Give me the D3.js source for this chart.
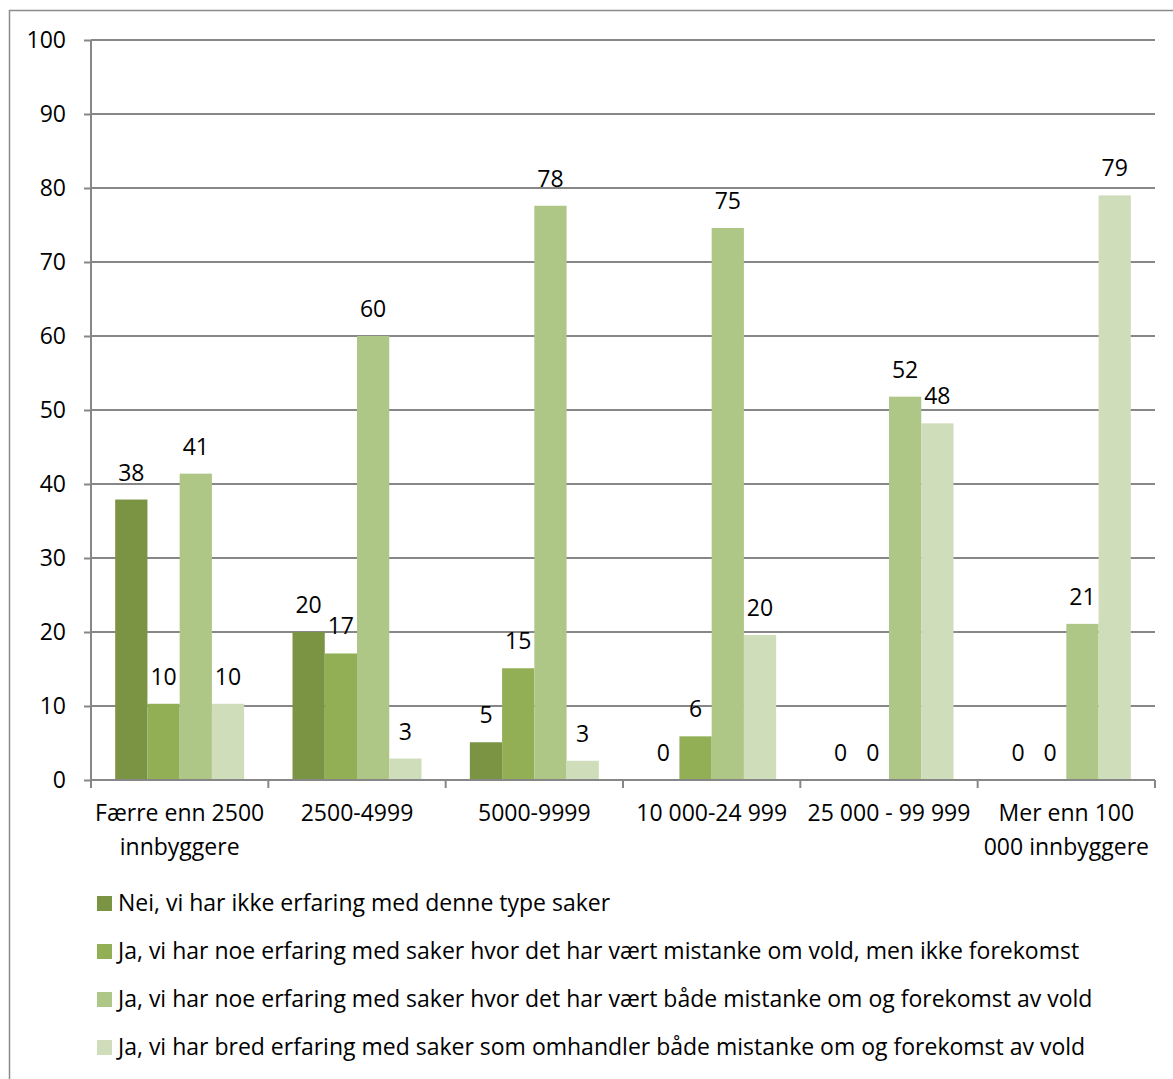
<!DOCTYPE html>
<html><head><meta charset="utf-8">
<script src="https://cdn.jsdelivr.net/npm/d3@7"></script>
<style>html,body{margin:0;padding:0;background:#fff;} svg{display:block;}</style>
</head><body>
<script>
const categories = ["Færre enn 2500 innbyggere","2500-4999","5000-9999","10 000-24 999","25 000 - 99 999","Mer enn 100 000 innbyggere"];
const categoryLines = [["Færre enn 2500","innbyggere"],["2500-4999"],["5000-9999"],["10 000-24 999"],["25 000 - 99 999"],["Mer enn 100","000 innbyggere"]];
const seriesNames = [
  "Nei, vi har ikke erfaring med denne type saker",
  "Ja, vi har noe erfaring med saker hvor det har vært mistanke om vold, men ikke forekomst",
  "Ja, vi har noe erfaring med saker hvor det har vært både mistanke om og forekomst av vold",
  "Ja, vi har bred erfaring med saker som omhandler både mistanke om og forekomst av vold"
];
const seriesNei = [37.9, 20.0, 5.1, 0, 0, 0];
const seriesNoeMistanke = [10.3, 17.1, 15.1, 5.9, 0, 0];
const seriesNoeBegge = [41.4, 60.0, 77.6, 74.6, 51.8, 21.1];
const seriesBred = [10.3, 2.9, 2.6, 19.6, 48.2, 79.0];
const yTicks = [0,10,20,30,40,50,60,70,80,90,100];
const colors = ["#7A9444","#93AF55","#AEC787","#D0DDBA"];

(function(){
const series = [seriesNei, seriesNoeMistanke, seriesNoeBegge, seriesBred];
const W = 1173, H = 1079;
const font = "'Open Sans', Lato, sans-serif";
const fs = 23;
const svg = d3.select("body").append("svg").attr("width", W).attr("height", H);

svg.append("rect").attr("x", 9.5).attr("y", 10.5).attr("width", W + 10).attr("height", H + 10)
  .attr("fill", "none").attr("stroke", "#8c8c8c").attr("stroke-width", 1.5);

const pLeft = 91, pRight = 1155, pTop = 40, pBottom = 780;
const x0 = d3.scaleBand().domain(categories).range([pLeft, pRight]).padding(0);
const catW = x0.bandwidth();
const barW = catW / 5.5;
const off = (catW - 4 * barW) / 2;
const x1 = d3.scaleBand().domain(d3.range(4)).range([off, off + 4 * barW]).padding(0);
const y = d3.scaleLinear().domain([0, 100]).range([pBottom, pTop]);

svg.append("g").selectAll("line").data(yTicks.filter(d => d > 0)).join("line")
  .attr("x1", pLeft).attr("x2", pRight).attr("y1", d => y(d)).attr("y2", d => y(d))
  .attr("stroke", "#878787").attr("stroke-width", 2);

const yAxis = svg.append("g").attr("transform", `translate(${pLeft},0)`)
  .call(d3.axisLeft(y).tickValues(yTicks).tickSize(7).tickPadding(18).tickFormat(d3.format("d")));
yAxis.select(".domain").attr("stroke", "#878787").attr("stroke-width", 2).attr("d", `M0,${pTop}V${pBottom}`);
yAxis.selectAll(".tick line").attr("stroke", "#878787").attr("stroke-width", 2);
yAxis.selectAll(".tick text").attr("font-family", font).attr("font-size", fs).attr("fill", "#000");

const groups = svg.append("g").selectAll("g").data(categories).join("g")
  .attr("transform", d => `translate(${x0(d)},0)`);
groups.each(function(cat, ci) {
  const g = d3.select(this);
  series.forEach((s, si) => {
    const v = s[ci];
    if (v > 0) {
      g.append("rect").attr("x", x1(si)).attr("width", x1.bandwidth())
        .attr("y", y(v)).attr("height", y(0) - y(v)).attr("fill", colors[si]);
    }
  });
});

const xAxis = svg.append("g").attr("transform", `translate(0,${pBottom})`);
xAxis.append("line").attr("x1", pLeft).attr("x2", pRight).attr("y1", 0).attr("y2", 0)
  .attr("stroke", "#878787").attr("stroke-width", 2);
xAxis.selectAll("line.tk").data(d3.range(categories.length + 1)).join("line").attr("class", "tk")
  .attr("x1", i => pLeft + i * catW).attr("x2", i => pLeft + i * catW).attr("y1", 0).attr("y2", 8)
  .attr("stroke", "#878787").attr("stroke-width", 2);
xAxis.selectAll("text.cat").data(categories).join("text").attr("class", "cat")
  .attr("x", d => x0(d) + catW / 2).attr("y", 41)
  .attr("text-anchor", "middle").attr("font-family", font).attr("font-size", fs).attr("fill", "#000")
  .each(function(d, i) {
    const t = d3.select(this);
    categoryLines[i].forEach((ln, li) => {
      t.append("tspan").attr("x", x0(d) + catW / 2).attr("dy", li === 0 ? 0 : 34).text(ln);
    });
  });

groups.each(function(cat, ci) {
  const g = d3.select(this);
  series.forEach((s, si) => {
    const v = s[ci];
    g.append("text").attr("x", x1(si) + x1.bandwidth() / 2).attr("y", y(v) - 19)
      .attr("text-anchor", "middle").attr("font-family", font).attr("font-size", fs).attr("fill", "#000")
      .text(d3.format(".0f")(v));
  });
});

const legend = svg.append("g");
seriesNames.forEach((name, i) => {
  const cy = 903 + i * 48;
  legend.append("rect").attr("x", 97).attr("y", cy - 7).attr("width", 15).attr("height", 15).attr("fill", colors[i]);
  legend.append("text").attr("x", 118).attr("y", cy).attr("dy", "0.35em")
    .attr("font-family", font).attr("font-size", fs).attr("fill", "#000").text(name);
});
})();
</script>
</body></html>
